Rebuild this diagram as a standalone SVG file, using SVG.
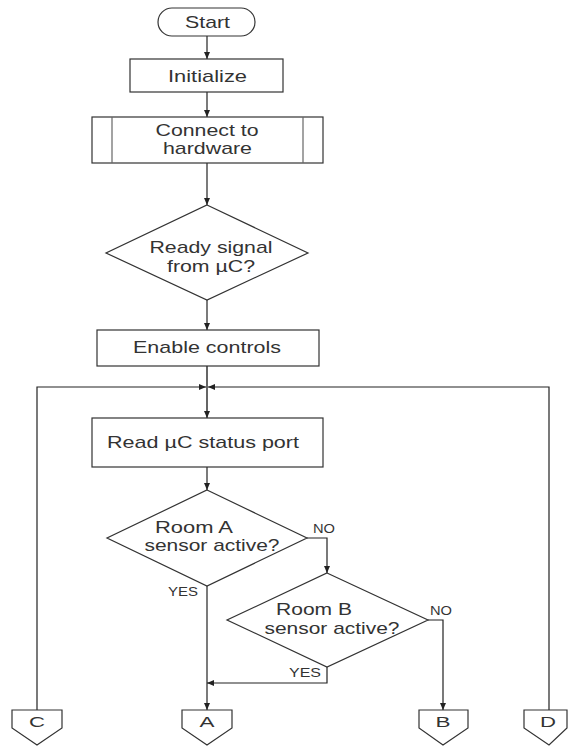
<svg xmlns="http://www.w3.org/2000/svg" width="568" height="749" viewBox="0 0 568 749">
  <defs>
    <marker id="arrow" markerUnits="userSpaceOnUse" markerWidth="7" markerHeight="6" refX="7" refY="3" orient="auto">
      <path d="M0,0 L7,3 L0,6 z" fill="#222"/>
    </marker>
    <style>
      .shape { fill: #fff; stroke: #333; stroke-width: 1.2; }
      .inner { fill: none; stroke: #666; stroke-width: 1.2; }
      .conn { fill: none; stroke: #222; stroke-width: 1.2; }
      .main { fill: none; stroke: #555; stroke-width: 1.8; }
      text { font-family: "Liberation Sans", Arial, sans-serif; fill: #333; }
      .t { font-size: 17px; text-anchor: middle; }
      .lbl { font-size: 12px; text-anchor: middle; }
      .pg { font-size: 15px; text-anchor: middle; }
    </style>
  </defs>
  <rect width="568" height="749" fill="#fff"/>

  <!-- connectors -->
  <g id="connectors">
    <path class="conn" d="M207,36 V59" marker-end="url(#arrow)"/>
    <path class="conn" d="M207,92 V117" marker-end="url(#arrow)"/>
    <path class="conn" d="M207,163 V205" marker-end="url(#arrow)"/>
    <path class="conn" d="M207,300 V330" marker-end="url(#arrow)"/>
    <path class="main" d="M207,366 V418" marker-end="url(#arrow)"/>
    <path class="conn" d="M37,710 V387 H206" marker-end="url(#arrow)"/>
    <path class="conn" d="M549,710 V387 H208" marker-end="url(#arrow)"/>
    <path class="conn" d="M207,467 V490" marker-end="url(#arrow)"/>
    <path class="conn" d="M307,538 H327 V573" marker-end="url(#arrow)"/>
    <path class="conn" d="M207,586 V710" marker-end="url(#arrow)"/>
    <path class="conn" d="M428,620 H443 V710" marker-end="url(#arrow)"/>
    <path class="conn" d="M327,667 V683 H207" marker-end="url(#arrow)"/>
    <text class="lbl" x="324" y="533" textLength="22" lengthAdjust="spacingAndGlyphs">NO</text>
    <text class="lbl" x="183" y="596" textLength="30" lengthAdjust="spacingAndGlyphs">YES</text>
    <text class="lbl" x="441" y="615" textLength="22" lengthAdjust="spacingAndGlyphs">NO</text>
    <text class="lbl" x="305" y="677" textLength="32" lengthAdjust="spacingAndGlyphs">YES</text>
  </g>

  <g id="start">
    <rect class="shape" x="158" y="8" width="97" height="28" rx="14" ry="14"/>
    <text class="t" x="207.5" y="28" textLength="45" lengthAdjust="spacingAndGlyphs">Start</text>
  </g>

  <g id="initialize">
    <rect class="shape" x="130" y="59" width="153" height="33"/>
    <text class="t" x="207.5" y="82" textLength="79" lengthAdjust="spacingAndGlyphs">Initialize</text>
  </g>

  <g id="connect">
    <rect class="shape" x="92" y="117" width="231" height="46"/>
    <line class="inner" x1="112" y1="117" x2="112" y2="163"/>
    <line class="inner" x1="303" y1="117" x2="303" y2="163"/>
    <text class="t" x="207" y="136" textLength="103" lengthAdjust="spacingAndGlyphs">Connect to</text>
    <text class="t" x="207.5" y="154" textLength="89" lengthAdjust="spacingAndGlyphs">hardware</text>
  </g>

  <g id="ready">
    <polygon class="shape" points="207,205 308,253 207,300 106,253"/>
    <text class="t" x="211" y="253" textLength="123" lengthAdjust="spacingAndGlyphs">Ready signal</text>
    <text class="t" x="211" y="272" textLength="88" lengthAdjust="spacingAndGlyphs">from µC?</text>
  </g>

  <g id="enable">
    <rect class="shape" x="97" y="330" width="222" height="36"/>
    <text class="t" x="207" y="353" textLength="148" lengthAdjust="spacingAndGlyphs">Enable controls</text>
  </g>

  <g id="read">
    <rect class="shape" x="92" y="418" width="231" height="49"/>
    <text x="107" y="448" font-size="17" textLength="192" lengthAdjust="spacingAndGlyphs">Read µC status port</text>
  </g>

  <g id="roomA">
    <polygon class="shape" points="207,490 307,538 207,586 107,538"/>
    <text class="t" x="194" y="533" textLength="78" lengthAdjust="spacingAndGlyphs">Room A</text>
    <text class="t" x="212" y="551" textLength="135" lengthAdjust="spacingAndGlyphs">sensor active?</text>
  </g>

  <g id="roomB">
    <polygon class="shape" points="327,573 428,620 327,667 227,620"/>
    <text class="t" x="314" y="615" textLength="76" lengthAdjust="spacingAndGlyphs">Room B</text>
    <text class="t" x="332" y="634" textLength="135" lengthAdjust="spacingAndGlyphs">sensor active?</text>
  </g>

  <g id="pageC">
    <polygon class="shape" points="12,710 62,710 62,728 37,745 12,728"/>
    <text class="pg" x="37" y="727" textLength="16" lengthAdjust="spacingAndGlyphs">C</text>
  </g>
  <g id="pageA">
    <polygon class="shape" points="182,710 232,710 232,728 207,745 182,728"/>
    <text class="pg" x="207" y="727" textLength="15" lengthAdjust="spacingAndGlyphs">A</text>
  </g>
  <g id="pageB">
    <polygon class="shape" points="419,710 468,710 468,728 443,745 419,728"/>
    <text class="pg" x="443" y="727" textLength="15" lengthAdjust="spacingAndGlyphs">B</text>
  </g>
  <g id="pageD">
    <polygon class="shape" points="524,710 567,710 567,728 549,745 524,728"/>
    <text class="pg" x="548" y="727" textLength="16" lengthAdjust="spacingAndGlyphs">D</text>
  </g>
</svg>
